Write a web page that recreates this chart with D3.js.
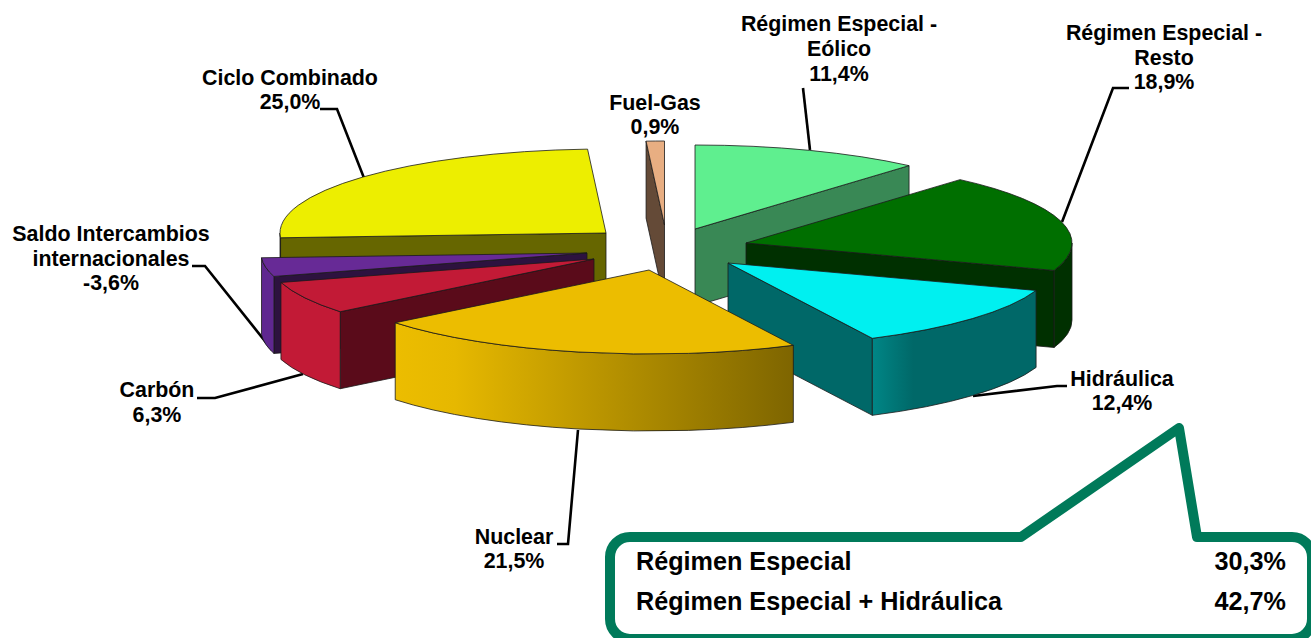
<!DOCTYPE html>
<html><head><meta charset="utf-8">
<script src="https://cdn.jsdelivr.net/npm/d3@7/dist/d3.min.js"></script>
<style>html,body{margin:0;padding:0;background:#fff;overflow:hidden}svg{display:block}text{font-family:"Liberation Sans",Arial,sans-serif;font-weight:bold;fill:#000}</style>
</head><body><svg id="c" width="1311" height="638"></svg>
<script>
// data
const categories = ["Régimen Especial - Eólico","Régimen Especial - Resto","Hidráulica","Nuclear","Carbón","Saldo Intercambios internacionales","Ciclo Combinado","Fuel-Gas"];
const shares = [11.4,18.9,12.4,21.5,6.3,-3.6,25.0,0.9];
const shareLabels = ["11,4%","18,9%","12,4%","21,5%","6,3%","-3,6%","25,0%","0,9%"];
const labelLines = [["Régimen Especial -","Eólico"],["Régimen Especial -","Resto"],["Hidráulica"],["Nuclear"],["Carbón"],["Saldo Intercambios","internacionales"],["Ciclo Combinado"],["Fuel-Gas"]];
const summaryLabels = ["Régimen Especial","Régimen Especial + Hidráulica"];
const summaryValues = ["30,3%","42,7%"];

// styles & layout
const topColors  = ["#5FEF8F","#006F00","#00F0F0","#ECBD00","#C21A36","#672A96","#EDEE00","#E8AE82"];
const faceColors = ["#398855","#003000","#006868","#7E6500","#5A0B1A","#2D123F","#666600","#644A37"];
const wallStops  = [null,[[0,"#003000"]],[[0,"#008686"],[.25,"#006868"]],[[0,"#ECBD00"],[.15,"#E6B800"],[1,"#7E6500"]],[[0,"#C21A36"]],[[0,"#5F2790"]],[[0,"#666600"]],[[0,"#644A37"]]];
const apexX = [695,746,728,649,594,587,606,664.5];
const apexY = [229,243,263,270,259,253,233,225];
const drawOrder = [6,7,0,5,1,4,2,3];
const labelX = [839,1164,1122,514,157,111,290,655];
const labelY = [31,40,386,544,397,241,85,110];
const labelLeading = [24.8,24.5,24,24,25,24.5,24,24];
const leaders = [
  [[803,88],[810,150]],
  [[1129,88],[1113,88],[1062,222]],
  [[1067,386],[1057,386],[973,396]],
  [[557,544],[568,544],[578,430]],
  [[197,398],[215,398],[303,374]],
  [[192,266],[205,266],[272,350]],
  [[320,109],[337,109],[364,178]]
];
const rx=326, ry=84, depth=77;

const svg=d3.select("#c"), defs=svg.append("defs");
const xS=d3.scaleLinear().domain([-1,1]).range([-rx,rx]);
const yS=d3.scaleLinear().domain([-1,1]).range([-ry,ry]);
const pie=d3.pie().sort(null).value(d=>Math.abs(d)).startAngle(0).endAngle(2*Math.PI);
const arcs=pie(shares);
const pt=(i,a,dz=0)=>[apexX[i]+xS(Math.sin(a)),apexY[i]-yS(Math.cos(a))+dz];
const fmt=p=>p[0].toFixed(2)+" "+p[1].toFixed(2);
const ell=(p,sweep,large=0)=>`A${rx} ${ry} 0 ${large} ${sweep} ${fmt(p)}`;

const line=d3.line();
svg.append("g").selectAll("path").data(leaders).join("path")
  .attr("d",d=>line(d)).attr("fill","none").attr("stroke","#000").attr("stroke-width",2.6);

const pieG=svg.append("g").attr("stroke","#1a1a1a").attr("stroke-width",.8).attr("stroke-linejoin","round");
drawOrder.forEach(i=>{
  const a0=arcs[i].startAngle,a1=arcs[i].endAngle;
  const g=pieG.append("g");
  const A=[apexX[i],apexY[i]];
  const S=pt(i,a0),E=pt(i,a1);
  const face=(P,Q)=>`M${fmt(P)}L${fmt(Q)}L${fmt([Q[0],Q[1]+depth])}L${fmt([P[0],P[1]+depth])}Z`;
  if(Math.sin(a0)<-1e-6) g.append("path").attr("d",face(A,S)).attr("fill",faceColors[i]);
  if(Math.sin(a1)>1e-6)  g.append("path").attr("d",face(A,E)).attr("fill",faceColors[i]);
  const w0=Math.max(a0,Math.PI/2),w1=Math.min(a1,3*Math.PI/2);
  if(w1>w0){
    let fill=faceColors[i];
    const stops=wallStops[i];
    if(stops&&stops.length>1){
      const id="w"+i;
      const lg=defs.append("linearGradient").attr("id",id);
      stops.forEach(s=>lg.append("stop").attr("offset",s[0]).attr("stop-color",s[1]));
      fill=`url(#${id})`;
    } else if(stops) fill=stops[0][1];
    const p0=pt(i,w0),p1=pt(i,w1),q0=pt(i,w0,depth),q1=pt(i,w1,depth);
    g.append("path").attr("d",`M${fmt(p0)}${ell(p1,1)}L${fmt(q1)}${ell(q0,0)}Z`).attr("fill",fill);
  }
  g.append("path").attr("d",`M${fmt(A)}L${fmt(S)}${ell(E,1,(a1-a0)>Math.PI?1:0)}Z`).attr("fill",topColors[i]);
});

// labels
const fs=21.4;
categories.forEach((c,i)=>{
  const t=svg.append("text").attr("text-anchor","middle").attr("font-size",fs);
  labelLines[i].concat([shareLabels[i]]).forEach((s,k)=>{
    t.append("tspan").attr("x",labelX[i]).attr("y",labelY[i]+k*labelLeading[i]).text(s);
  });
});

// callout
const cL=610,cT=537,cB=639,cR=1312,r=20;
const p=d3.path();
p.moveTo(cL+r,cT);p.lineTo(1021,cT);p.lineTo(1179,428);p.lineTo(1197,cT);p.lineTo(cR-r,cT);
p.arcTo(cR,cT,cR,cT+r,r);p.lineTo(cR,cB-r);p.arcTo(cR,cB,cR-r,cB,r);p.lineTo(cL+r,cB);
p.arcTo(cL,cB,cL,cB-r,r);p.lineTo(cL,cT+r);p.arcTo(cL,cT,cL+r,cT,r);p.closePath();
svg.append("path").attr("d",p.toString()).attr("fill","none").attr("stroke","#007A5A").attr("stroke-width",10).attr("stroke-linejoin","round");
const rowY=[570,610];
summaryLabels.forEach((s,i)=>{
  svg.append("text").attr("x",636).attr("y",rowY[i]).attr("font-size",25.2).text(s);
  svg.append("text").attr("x",1286).attr("y",rowY[i]).attr("font-size",25.2).attr("text-anchor","end").text(summaryValues[i]);
});
</script></body></html>
